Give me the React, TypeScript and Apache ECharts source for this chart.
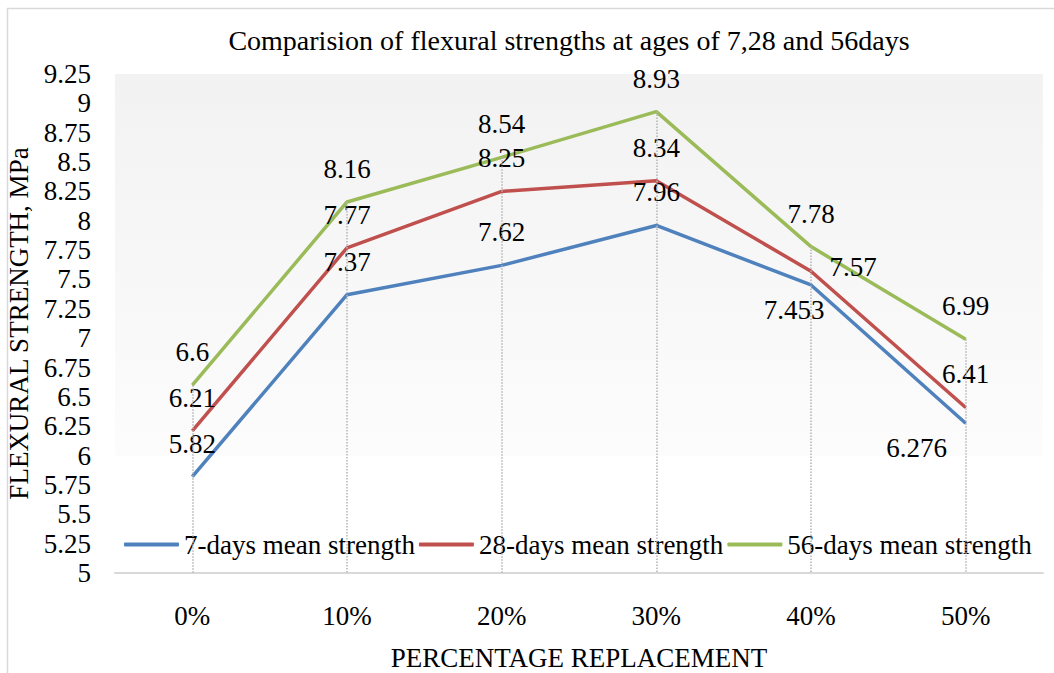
import React, { useEffect, useRef } from "react";
import * as echarts from "echarts";

const categories = ["0%", "10%", "20%", "30%", "40%", "50%"];
const days7 = [5.82, 7.37, 7.62, 7.96, 7.453, 6.276];
const days28 = [6.21, 7.77, 8.25, 8.34, 7.57, 6.41];
const days56 = [6.6, 8.16, 8.54, 8.93, 7.78, 6.99];
const seriesNames = ["7-days mean strength", "28-days mean strength", "56-days mean strength"];
const yMin = 5;
const yMax = 9.25;
const yStep = 0.25;

const FONT = "'Liberation Serif', 'Times New Roman', serif";
const COLORS = ["#4f81bd", "#c0504d", "#9bbb59"];

// label offsets per series/category (default: centred above the point)
const labelOffsets: Record<string, [number, number]> = {
  "0-4": [-17, 25],
  "0-5": [-49, 25],
  "1-4": [42, -4],
};

export default function App() {
  const ref = useRef<HTMLDivElement>(null);
  useEffect(() => {
    if (!ref.current) return;
    const chart = echarts.init(ref.current, undefined, { renderer: "svg" });
    const all = [days7, days28, days56];
    const maxes = categories.map((_, i) => Math.max(...all.map((s) => s[i])));
    const lineSeries = all.map((vals, si) => ({
      name: seriesNames[si],
      type: "line",
      z: 3,
      symbol: "circle",
      symbolSize: 1,
      itemStyle: { color: COLORS[si] },
      lineStyle: { color: COLORS[si], width: 3.5 },
      label: {
        show: true,
        position: "inside",
        color: "#000",
        fontFamily: FONT,
        fontSize: 27,
      },
      data: vals.map((v, i) => ({
        value: v,
        label: { offset: labelOffsets[`${si}-${i}`] || [0, -33] },
      })),
    }));
    const dropSeries = {
      name: "drop",
      type: "line",
      z: 1,
      silent: true,
      data: [],
      markLine: {
        silent: true,
        symbol: "none",
        label: { show: false },
        lineStyle: { color: "#b4b4b4", type: "dotted", width: 1.5 },
        data: categories.map((c, i) => [
          { coord: [c, maxes[i]] },
          { coord: [c, yMin] },
        ]),
      },
    };
    chart.setOption({
      animation: false,
      backgroundColor: "#fff",
      textStyle: { fontFamily: FONT },
      title: {
        text: "Comparision of flexural strengths at ages of 7,28 and 56days",
        left: 564,
        textAlign: "center",
        top: 21,
        textStyle: { fontFamily: FONT, fontSize: 28, fontWeight: "normal", color: "#000" },
      },
      legend: {
        data: seriesNames,
        left: 124,
        top: 531,
        padding: 0,
        itemGap: 4,
        itemWidth: 55,
        itemHeight: 4,
        icon: "roundRect",
        textStyle: { fontFamily: FONT, fontSize: 27, color: "#000" },
      },
      grid: {
        left: 115,
        right: 11,
        top: 74,
        bottom: 100,
        outerBoundsMode: "none",
        containLabel: false,
        show: true,
        borderWidth: 0,
        backgroundColor: {
          type: "linear",
          x: 0,
          y: 0,
          x2: 0,
          y2: 1,
          colorStops: [
            { offset: 0, color: "#f2f2f2" },
            { offset: 0.765, color: "#fcfcfc" },
            { offset: 0.766, color: "#ffffff" },
            { offset: 1, color: "#ffffff" },
          ],
        },
      },
      xAxis: {
        type: "category",
        data: categories,
        boundaryGap: true,
        axisTick: { show: false },
        axisLine: { lineStyle: { color: "#d9d9d9", width: 2 } },
        axisLabel: { color: "#000", fontFamily: FONT, fontSize: 27, margin: 29 },
        splitLine: { show: false },
        name: "PERCENTAGE REPLACEMENT",
        nameLocation: "middle",
        nameGap: 71,
        nameTextStyle: { color: "#000", fontFamily: FONT, fontSize: 27 },
      },
      yAxis: {
        type: "value",
        min: yMin,
        max: yMax,
        interval: yStep,
        axisLine: { show: false },
        axisTick: { show: false },
        splitLine: { show: false },
        axisLabel: { color: "#000", fontFamily: FONT, fontSize: 27, margin: 24 },
        name: "FLEXURAL STRENGTH, MPa",
        nameLocation: "middle",
        nameGap: 74,
        nameRotate: 90,
        nameTextStyle: { color: "#000", fontFamily: FONT, fontSize: 27 },
      },
      graphic: [
        {
          type: "rect",
          silent: true,
          z: 100,
          shape: { x: 7.5, y: 8.5, width: 1070, height: 700 },
          style: { fill: "none", stroke: "#d9d9d9", lineWidth: 1.5 },
        },
      ],
      series: [dropSeries, ...lineSeries],
    });
    return () => chart.dispose();
  }, []);
  return (
    <div
      ref={ref}
      style={{ position: "fixed", left: 0, top: 0, width: 1054, height: 673 }}
    />
  );
}
